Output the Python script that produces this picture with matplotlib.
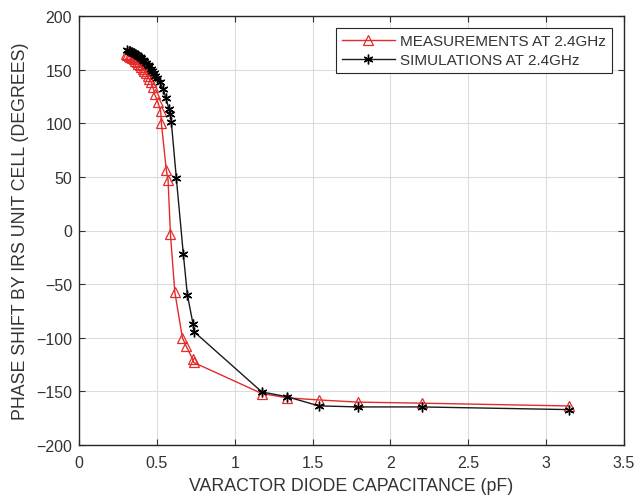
import matplotlib
matplotlib.use("Agg")
import matplotlib.pyplot as plt

plt.rcParams['font.family'] = ['Liberation Sans', 'DejaVu Sans']

meas_x = [0.30, 0.31, 0.32, 0.33, 0.34, 0.35, 0.36, 0.37, 0.38, 0.39, 0.40, 0.41,
          0.42, 0.43, 0.44, 0.45, 0.465, 0.475, 0.486, 0.507, 0.525, 0.529, 0.561,
          0.572, 0.587, 0.615, 0.664, 0.689, 0.730, 0.736, 1.174, 1.336, 1.54,
          1.79, 2.20, 3.146]
meas_y = [164.5, 163.8, 163, 162, 161, 159.8, 158.5, 157, 155.5, 154, 152.3, 150.5,
          148.5, 146.5, 144, 141.5, 138, 133.5, 127, 119.5, 111, 100, 56,
          47, -3, -57, -100, -108, -120, -123, -152, -156, -158,
          -160, -161, -163.6]

sim_x = [0.31, 0.32, 0.33, 0.34, 0.35, 0.36, 0.37, 0.38, 0.39, 0.40, 0.41, 0.42,
         0.43, 0.44, 0.45, 0.46, 0.47, 0.48, 0.49, 0.50, 0.518, 0.54, 0.557, 0.578,
         0.587, 0.593, 0.625, 0.670, 0.696, 0.732, 0.740, 1.174, 1.336, 1.54,
         1.79, 2.20, 3.146]
sim_y = [168, 167.5, 167, 166.3, 165.5, 164.7, 163.8, 162.8, 161.7, 160.5, 159.2, 157.8,
         156.3, 154.7, 153, 151, 149, 146.8, 144.5, 142, 138, 132, 124, 113,
         108.6, 101, 49, -22, -60, -87, -94.5, -150.5, -155, -163.5,
         -164.5, -164.5, -167]

xticks = [0, 0.5, 1, 1.5, 2, 2.5, 3, 3.5]
xticklabels = ['0', '0.5', '1', '1.5', '2', '2.5', '3', '3.5']
yticks = [-200, -150, -100, -50, 0, 50, 100, 150, 200]

txt = '#333333'
fig = plt.figure(figsize=(6.36, 5.02), dpi=100)
ax = fig.add_axes([79/636, 1 - 446/502, (624-79)/636, (446-17)/502])

ax.plot(meas_x, meas_y, color='#e52a2a', lw=1.0, marker='^', ms=7.5,
        mfc='none', mec='#e52a2a', mew=0.9, label='MEASUREMENTS AT 2.4GHz', zorder=3)
ax.plot(sim_x, sim_y, color='#1a1a1a', lw=1.0, marker=(6, 2, 0), ms=7,
        mec='#000000', mew=1.0, label='SIMULATIONS AT 2.4GHz', zorder=4)

ax.set_xlim(0, 3.5)
ax.set_ylim(-200, 200)
ax.set_xticks(xticks)
ax.set_xticklabels(xticklabels)
ax.set_yticks(yticks)
ax.grid(True, color='#dcdcdc', lw=0.8)
ax.set_axisbelow(True)
ax.tick_params(direction='in', top=True, right=True, labelsize=11.5,
               colors=txt, length=4, width=0.8)
ax.tick_params(axis='x', pad=7)
ax.tick_params(axis='y', pad=5)
for s in ax.spines.values():
    s.set_color('#262626')
    s.set_linewidth(1.0)

ax.set_xlabel('VARACTOR DIODE CAPACITANCE (pF)', fontsize=12.8, color=txt, labelpad=5)
ax.set_ylabel('PHASE SHIFT BY IRS UNIT CELL (DEGREES)', fontsize=12.8, color=txt, labelpad=5)

leg = ax.legend(loc='upper right', fontsize=11, frameon=True, fancybox=False,
                edgecolor='#262626', framealpha=1, borderpad=0.4, handlelength=3.5,
                handletextpad=0.3, labelspacing=0.3, borderaxespad=0.8)
leg.get_frame().set_linewidth(0.8)
for t in leg.get_texts():
    t.set_color(txt)

fig.savefig('out.png', dpi=100)
